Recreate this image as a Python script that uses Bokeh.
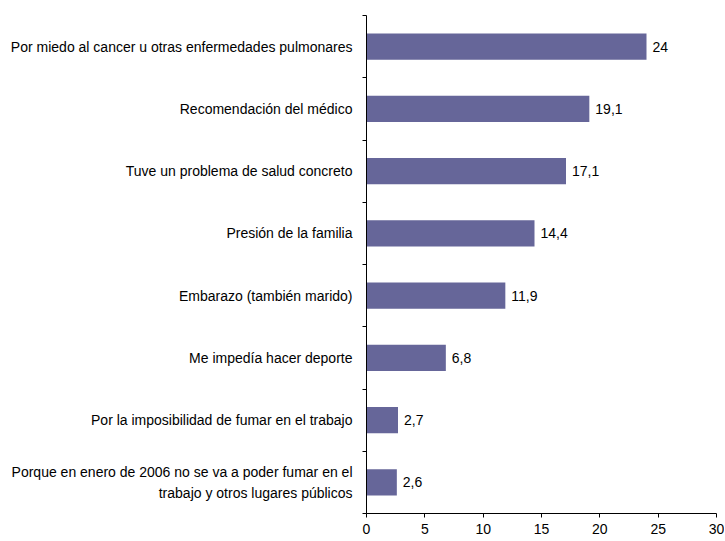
from bokeh.plotting import figure
from bokeh.models import ColumnDataSource, FixedTicker, Range1d
from bokeh.embed import file_html
from bokeh.resources import INLINE
from bokeh.core.properties import value

categories = [
    "Por miedo al cancer u otras enfermedades pulmonares",
    "Recomendación del médico",
    "Tuve un problema de salud concreto",
    "Presión de la familia",
    "Embarazo (también marido)",
    "Me impedía hacer deporte",
    "Por la imposibilidad de fumar en el trabajo",
    "Porque en enero de 2006 no se va a poder fumar en el\ntrabajo y otros lugares públicos",
]
values = [24, 19.1, 17.1, 14.4, 11.9, 6.8, 2.7, 2.6]
x_ticks = [0, 5, 10, 15, 20, 25, 30]

n = len(categories)
ypos = [n - 0.5 - i for i in range(n)]
labels = [("%g" % v).replace(".", ",") for v in values]

src = ColumnDataSource(dict(y=ypos, v=values, lab=labels))

FONT = "Liberation Sans"
FS = "14px"

p = figure(width=724, height=540, output_backend="svg", toolbar_location=None,
           x_range=Range1d(0, 30), y_range=Range1d(0, n),
           min_border_left=366, min_border_right=8, min_border_top=15, min_border_bottom=27)
p.outline_line_color = None
p.xgrid.grid_line_color = None
p.ygrid.grid_line_color = None
p.background_fill_color = "white"

p.hbar(y="y", right="v", left=0, height=0.42, source=src, fill_color="#666699", line_color=None)
p.text(x="v", y="y", text="lab", source=src, x_offset=6, text_baseline="middle", text_align="left",
       text_font=value(FONT), text_font_size=FS, text_color="#000000")

# x axis
p.xaxis.ticker = FixedTicker(ticks=x_ticks)
p.xaxis.major_tick_in = 0
p.xaxis.major_tick_out = 4
p.xaxis.minor_tick_line_color = None
p.xaxis.axis_line_color = "#000000"
p.xaxis.major_tick_line_color = "#000000"
p.xaxis.major_label_text_font = FONT
p.xaxis.major_label_text_font_size = FS
p.xaxis.major_label_text_color = "#000000"
p.xaxis.major_label_standoff = 6

# y axis
p.yaxis.ticker = FixedTicker(ticks=ypos, minor_ticks=list(range(n + 1)))
p.yaxis.major_label_overrides = {y: c for y, c in zip(ypos, categories)}
p.yaxis.major_tick_in = 0
p.yaxis.major_tick_out = 0
p.yaxis.minor_tick_in = 0
p.yaxis.minor_tick_out = 4
p.yaxis.minor_tick_line_color = "#000000"
p.yaxis.axis_line_color = "#000000"
p.yaxis.major_label_text_font = FONT
p.yaxis.major_label_text_font_size = FS
p.yaxis.major_label_text_color = "#000000"
p.yaxis.major_label_standoff = 10
p.yaxis.major_label_text_line_height = 1.3

open("out.html", "w").write(file_html(p, INLINE))
